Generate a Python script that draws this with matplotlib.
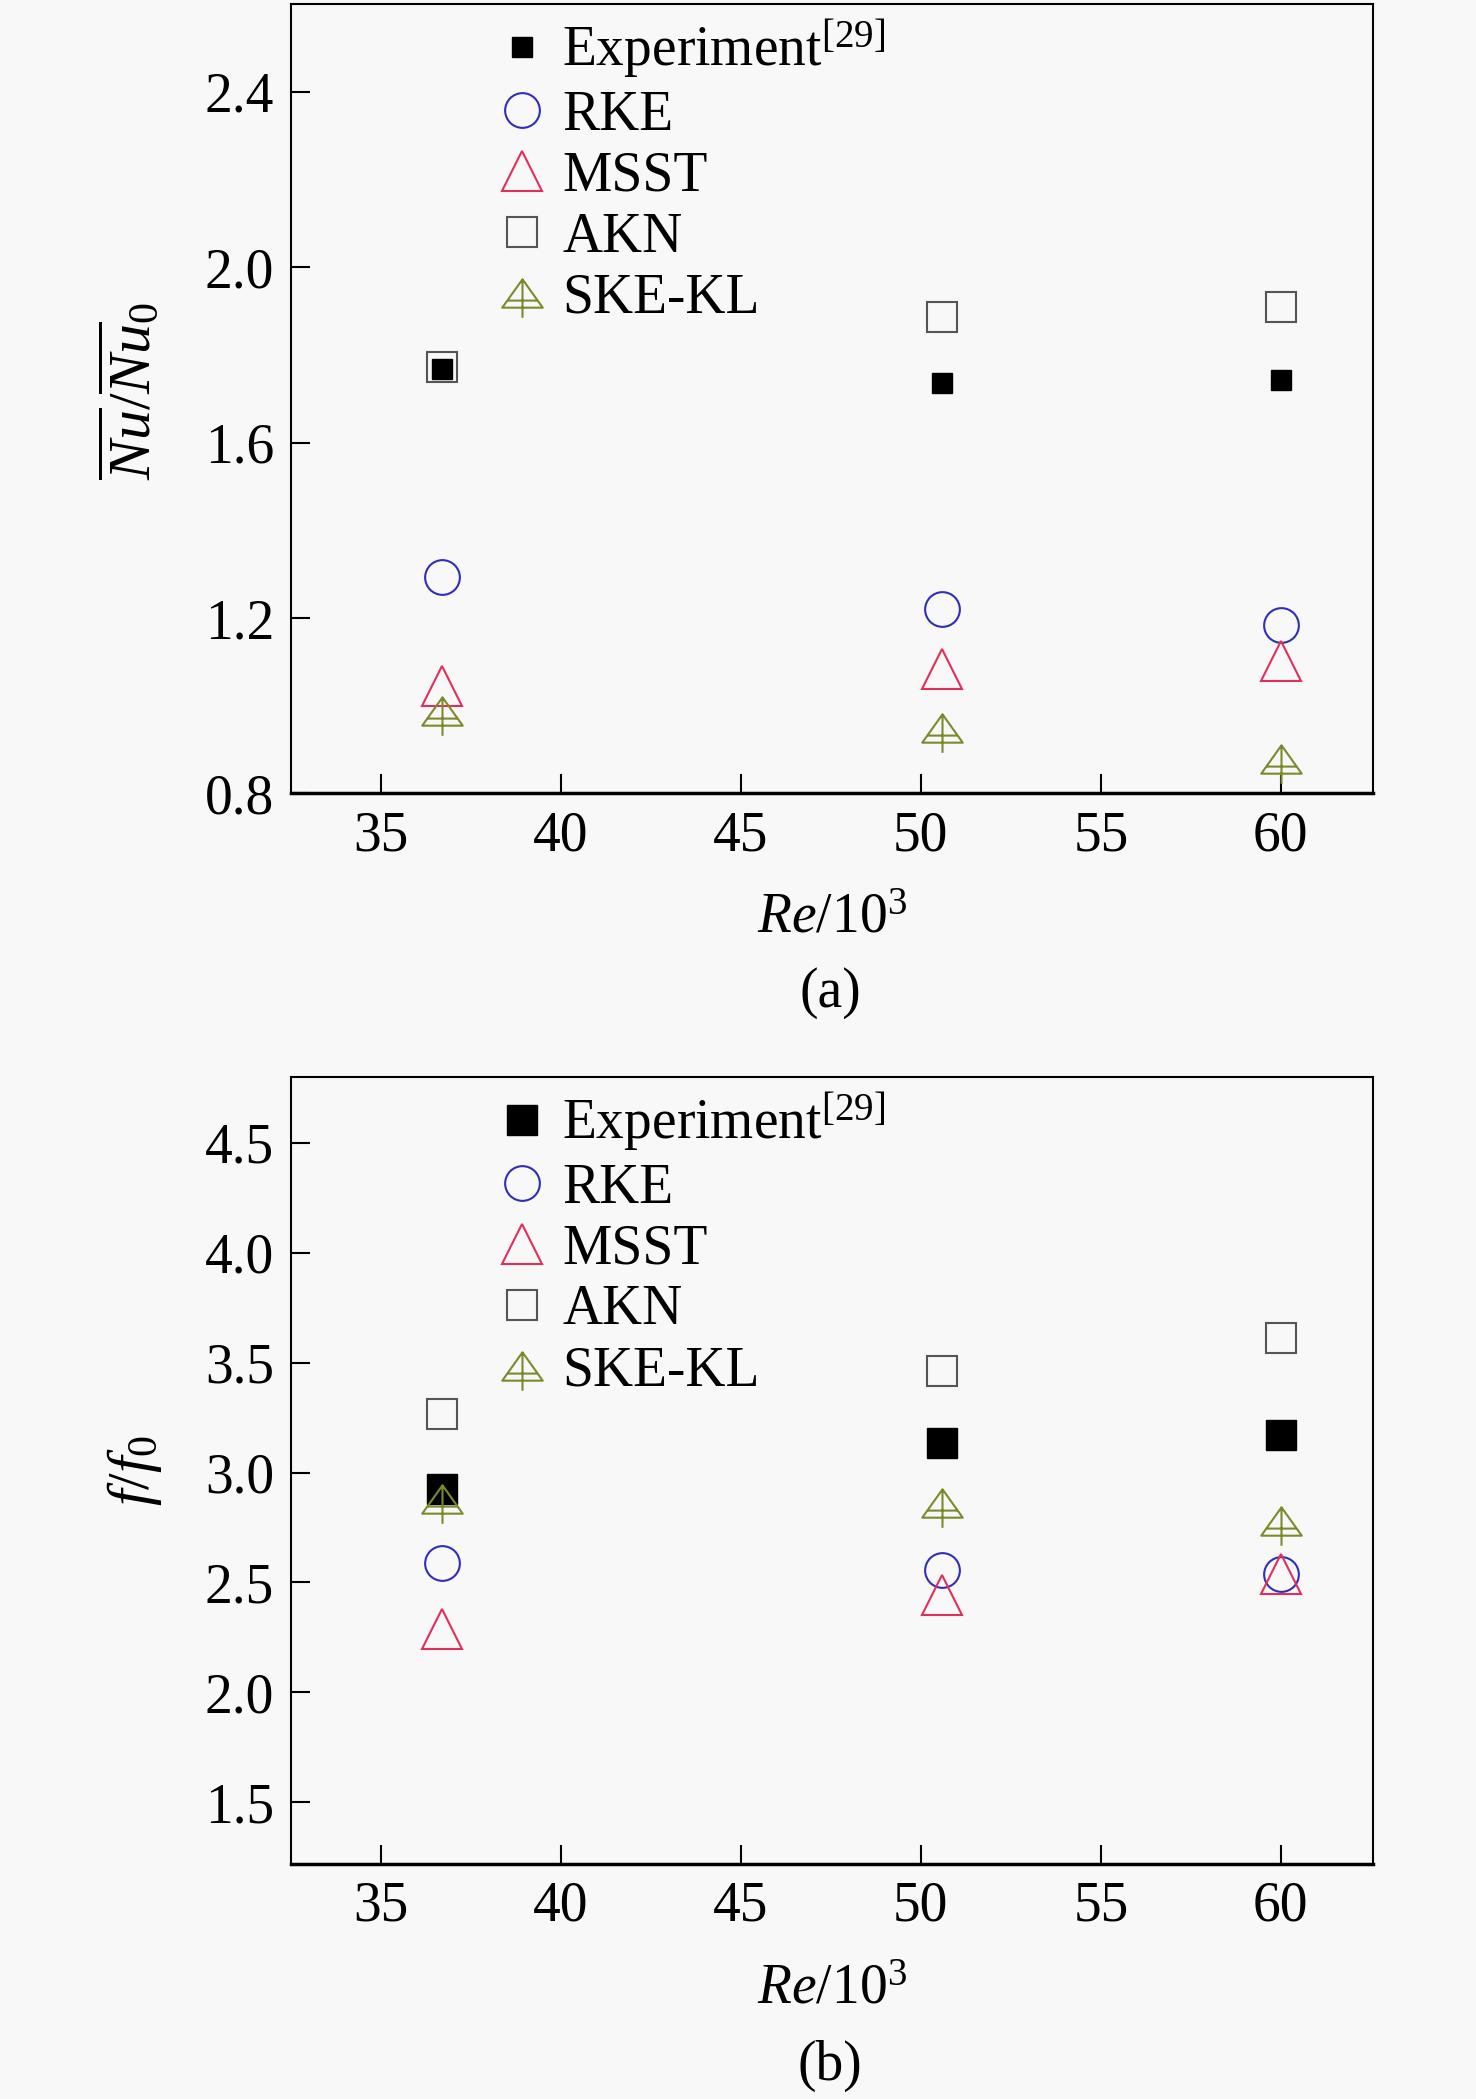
import matplotlib
matplotlib.use("Agg")
import matplotlib.pyplot as plt
from matplotlib.path import Path

plt.rcParams['font.family'] = ['Liberation Serif', 'DejaVu Serif']
plt.rcParams['mathtext.fontset'] = 'custom'
plt.rcParams['mathtext.rm'] = 'Liberation Serif'
plt.rcParams['mathtext.it'] = 'Liberation Serif:italic'

# ---- data ----
re = [36.7, 50.6, 60.0]

nu_exp = [1.767, 1.737, 1.743]
nu_rke = [1.293, 1.220, 1.183]
nu_msst = [1.046, 1.083, 1.101]
nu_akn = [1.773, 1.886, 1.910]
nu_skekl = [0.989, 0.949, 0.879]

f_exp = [2.927, 3.134, 3.171]
f_rke = [2.590, 2.555, 2.537]
f_msst = [2.287, 2.445, 2.537]
f_akn = [3.268, 3.463, 3.610]
f_skekl = [2.878, 2.860, 2.780]

labels = ['Experiment$^{[29]}$', 'RKE', 'MSST', 'AKN', 'SKE-KL']

# triangle with a cross inside, for SKE-KL
tri_plus = Path(
    [(0, 0.7), (-1, -0.7), (1, -0.7), (0, 0.7),
     (0, 0.7), (0, -1.2), (-0.75, -0.35), (0.75, -0.35)],
    [Path.MOVETO, Path.LINETO, Path.LINETO, Path.CLOSEPOLY,
     Path.MOVETO, Path.LINETO, Path.MOVETO, Path.LINETO])

bg = '#f8f8f8'
fs = 40
fig = plt.figure(figsize=(14.76, 20.99), dpi=100, facecolor=bg)
ax1 = fig.add_axes([0.197, 0.622, 0.733, 0.376])
ax2 = fig.add_axes([0.197, 0.112, 0.733, 0.375])


def draw(ax, exp, rke, msst, akn, skekl, exp_ms):
    ax.set_facecolor(bg)
    ax.plot(re, exp, 's', ms=exp_ms, color='black', mec='black', label=labels[0])
    ax.plot(re, rke, 'o', ms=25, mfc='none', mec='#2e2eb8', mew=1.5, label=labels[1])
    ax.plot(re, msst, '^', ms=29, mfc='none', mec='#e0305a', mew=1.5, label=labels[2])
    ax.plot(re, akn, 's', ms=21, mfc='none', mec='#555555', mew=1.5, label=labels[3])
    ax.plot(re, skekl, marker=tri_plus, ls='none', ms=35, mfc='none',
            mec='#7d8a2c', mew=1.5, label=labels[4])
    ax.set_xlim(32.5, 62.55)
    ax.set_xticks([35, 40, 45, 50, 55, 60])
    ax.tick_params(direction='in', length=14, width=1.5, labelsize=fs, pad=12,
                   top=False, right=False)
    for s in ax.spines.values():
        s.set_linewidth(1.5)
    ax.spines['bottom'].set_linewidth(2.5)
    ax.set_xlabel(r'$\mathit{Re}/10^3$', fontsize=fs, labelpad=22)
    ax.legend(loc='upper left', bbox_to_anchor=(0.147, 1.032), frameon=False,
              fontsize=fs, labelspacing=0.16, handletextpad=0.12,
              handlelength=1.2, borderpad=0.2)


draw(ax1, nu_exp, nu_rke, nu_msst, nu_akn, nu_skekl, 15)
ax1.set_ylim(0.8, 2.6)
ax1.set_yticks([0.8, 1.2, 1.6, 2.0, 2.4])
ax1.set_yticklabels(['0.8', '1.2', '1.6', '2.0', '2.4'])
ax1.set_ylabel(r'$\overline{\mathit{Nu}}/\overline{\mathit{Nu}}_0$', fontsize=43)
ax1.yaxis.set_label_coords(-0.117, 0.51)

draw(ax2, f_exp, f_rke, f_msst, f_akn, f_skekl, 21)
ax2.set_ylim(1.22, 4.8)
ax2.set_yticks([1.5, 2.0, 2.5, 3.0, 3.5, 4.0, 4.5])
ax2.set_yticklabels(['1.5', '2.0', '2.5', '3.0', '3.5', '4.0', '4.5'])
ax2.set_ylabel(r'$f/f_0$', fontsize=43)
ax2.yaxis.set_label_coords(-0.117, 0.5)

fig.text(0.5625, 0.527, '(a)', ha='center', va='center', fontsize=fs)
fig.text(0.5625, 0.016, '(b)', ha='center', va='center', fontsize=fs)

fig.savefig('out.png', dpi=100, facecolor=bg)
